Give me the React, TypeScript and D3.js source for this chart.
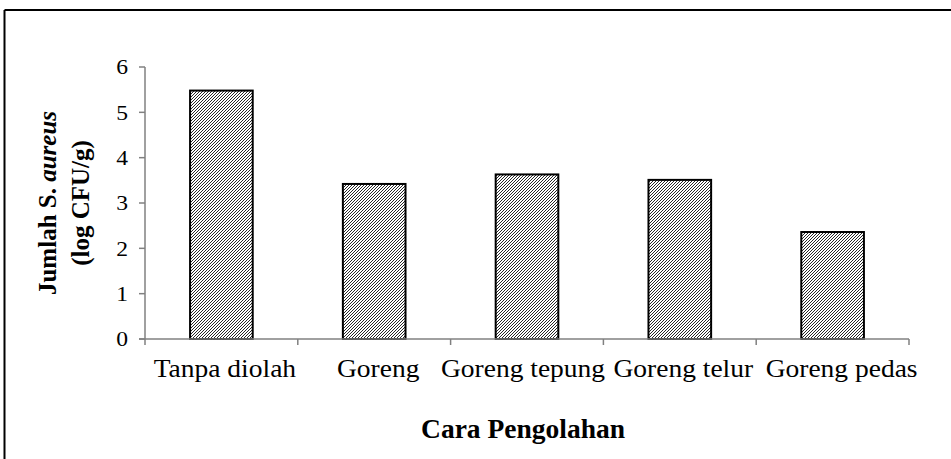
import React from 'react';
import * as d3 from 'd3';

const categories = ['Tanpa diolah', 'Goreng', 'Goreng tepung', 'Goreng telur', 'Goreng pedas'];
const values = [5.48, 3.42, 3.63, 3.51, 2.36];
const yTicks = [0, 1, 2, 3, 4, 5, 6];
// small horizontal nudges of the category labels, as in the source chart
const labelNudge = [3.5, 4, -4, 3.5, 9];

const W = 951;
const H = 459;
const margin = { left: 145, right: 42, top: 67, bottom: 120 };

const App = () => {
  const x = d3.scaleBand<string>()
    .domain(categories)
    .range([margin.left, W - margin.right])
    .paddingInner(0.59)
    .paddingOuter(0.295);

  const y = d3.scaleLinear()
    .domain([0, 6])
    .range([H - margin.bottom, margin.top]);

  const step = x.step();
  const bounds = categories.map((c, i) => margin.left + step * i).concat([W - margin.right]);
  const font = '"Liberation Serif", "Times New Roman", serif';
  const axisColor = '#808080';

  return (
    <svg width={W} height={H} style={{ position: 'absolute', left: 0, top: 0, background: '#fff' }}>
      <defs>
        <pattern id="hatch" width="3" height="3" patternUnits="userSpaceOnUse">
          <path d="M-1,1 l2,-2 M0,3 l3,-3 M2,4 l2,-2" stroke="#000" strokeWidth="0.85" />
        </pattern>
      </defs>
      <rect x={0} y={0} width={W} height={H} fill="#fff" />
      {/* outer frame */}
      <line x1={4.5} y1={10} x2={W} y2={10} stroke="#000" strokeWidth={2} />
      <line x1={4.5} y1={10} x2={4.5} y2={H} stroke="#000" strokeWidth={2} />

      {/* bars */}
      {categories.map((c, i) => (
        <rect
          key={c}
          x={x(c)}
          y={y(values[i])}
          width={x.bandwidth()}
          height={y(0) - y(values[i])}
          fill="url(#hatch)"
          stroke="#000"
          strokeWidth={2}
        />
      ))}

      {/* y axis */}
      <line x1={margin.left} y1={y(6)} x2={margin.left} y2={y(0)} stroke={axisColor} strokeWidth={1.5} />
      {yTicks.map(t => (
        <g key={t}>
          <line x1={margin.left - 6} x2={margin.left} y1={y(t)} y2={y(t)} stroke={axisColor} strokeWidth={1.5} />
          <g transform={`translate(128,${y(t)}) scale(1.15,1)`}>
            <text x={0} y={0} dy="0.36em" textAnchor="end" fontFamily={font} fontSize={20.5} fill="#000">{t}</text>
          </g>
        </g>
      ))}

      {/* x axis */}
      <line x1={margin.left - 6} y1={y(0)} x2={W - margin.right} y2={y(0)} stroke={axisColor} strokeWidth={1.5} />
      {bounds.map((b, i) => (
        <line key={i} x1={b} x2={b} y1={y(0)} y2={y(0) + 6} stroke={axisColor} strokeWidth={1.5} />
      ))}
      {categories.map((c, i) => (
        <g key={c} transform={`translate(${(x(c) ?? 0) + x.bandwidth() / 2 + labelNudge[i]},377) scale(1.1,1)`}>
          <text x={0} y={0} textAnchor="middle" fontFamily={font} fontSize={25} fill="#000">{c}</text>
        </g>
      ))}

      {/* axis titles */}
      <text x={(margin.left + W - margin.right) / 2 - 4} y={438} textAnchor="middle" fontFamily={font} fontSize={27.5} fontWeight="bold" fill="#000">Cara Pengolahan</text>
      <g transform={`translate(56,${203}) rotate(-90)`}>
        <text x={0} y={0} textAnchor="middle" fontFamily={font} fontSize={25} fontWeight="bold" fill="#000">
          Jumlah S. <tspan fontStyle="italic">aureus</tspan>
        </text>
        <text x={0} y={33} textAnchor="middle" fontFamily={font} fontSize={25} fontWeight="bold" fill="#000">(log CFU/g)</text>
      </g>
    </svg>
  );
};

export default App;
